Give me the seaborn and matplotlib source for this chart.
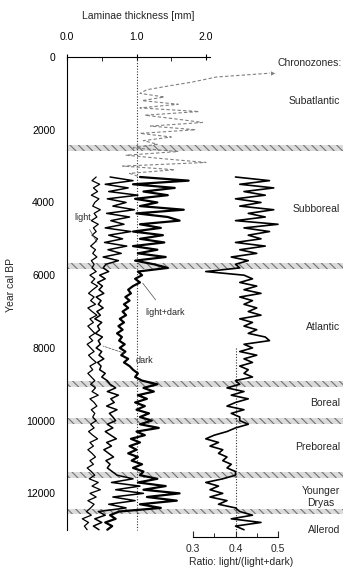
import numpy as np
import pandas as pd
import matplotlib
matplotlib.use("Agg")
import matplotlib.pyplot as plt
import seaborn as sns

# data (years cal BP, thickness in mm)
years = np.arange(3300, 13001, 100)

light = [0.42, 0.36, 0.47, 0.38, 0.44, 0.35, 0.46, 0.40, 0.37, 0.48, 0.39, 0.43, 0.35, 0.45, 0.38,
         0.42, 0.36, 0.44, 0.40, 0.34, 0.41, 0.37, 0.43, 0.35, 0.39,
         0.36, 0.42, 0.33, 0.40, 0.35, 0.44, 0.37, 0.31, 0.39, 0.34, 0.41, 0.30, 0.36, 0.43, 0.33, 0.38,
         0.30, 0.35, 0.40, 0.32, 0.37, 0.29, 0.34, 0.39, 0.31, 0.36, 0.42, 0.33, 0.37, 0.30, 0.35, 0.40,
         0.34, 0.41, 0.36, 0.45, 0.33, 0.39, 0.43, 0.35, 0.40, 0.37,
         0.42, 0.34, 0.39, 0.31, 0.37, 0.44, 0.33, 0.38, 0.30, 0.36, 0.41, 0.33, 0.38, 0.29, 0.35,
         0.40, 0.32, 0.45, 0.36, 0.48, 0.33, 0.42, 0.30, 0.39, 0.34,
         0.28, 0.35, 0.22, 0.31, 0.25, 0.29]

dark = [0.62, 0.95, 0.55, 0.88, 0.60, 1.02, 0.58, 0.85, 0.66, 0.97, 0.57, 0.90, 0.63, 0.82, 0.55,
        0.92, 0.60, 0.80, 0.54, 0.86, 0.59, 0.78, 0.52, 0.74, 0.56,
        0.52, 0.60, 0.47, 0.55, 0.44, 0.51, 0.46, 0.53, 0.42, 0.49, 0.45, 0.52, 0.43, 0.48, 0.40, 0.50,
        0.44, 0.47, 0.41, 0.51, 0.45, 0.48, 0.42, 0.50, 0.46, 0.53, 0.44, 0.49, 0.47, 0.55, 0.50, 0.58,
        0.62, 0.70, 0.58, 0.74, 0.63, 0.68, 0.57, 0.72, 0.61, 0.66,
        0.70, 0.58, 0.66, 0.55, 0.63, 0.71, 0.57, 0.64, 0.53, 0.60, 0.67, 0.56, 0.62, 0.58, 0.65,
        0.72, 0.95, 0.64, 1.05, 0.70, 1.10, 0.66, 0.98, 0.60, 0.85,
        0.45, 0.55, 0.40, 0.50, 0.38, 0.46]

total = [1.05, 1.75, 0.95, 1.55, 1.10, 1.45, 0.98, 1.30, 1.05, 1.68, 1.00, 1.45, 1.62, 1.05, 1.35,
         0.95, 1.38, 1.05, 1.40, 0.95, 1.30, 1.02, 1.42, 0.98, 1.25,
         1.45, 1.02, 1.08, 0.98, 1.05, 0.95, 0.88, 0.92, 0.84, 0.90, 0.82, 0.88, 0.80, 0.85, 0.76, 0.82,
         0.74, 0.80, 0.72, 0.79, 0.75, 0.83, 0.76, 0.84, 0.78, 0.88, 0.82, 0.90, 0.95, 1.02, 0.98, 1.08,
         1.30, 1.10, 1.25, 1.02, 1.15, 0.98, 1.12, 1.00, 1.18, 1.05,
         1.22, 1.05, 1.32, 1.00, 1.12, 0.92, 1.05, 0.90, 1.00, 0.88, 1.02, 0.93, 1.08, 0.95, 1.10,
         1.05, 1.30, 1.02, 1.42, 1.10, 1.62, 1.15, 1.58, 1.05, 1.35,
         0.75, 0.62, 0.70, 0.55, 0.65, 0.58]

ratio = [0.40, 0.48, 0.41, 0.49, 0.42, 0.47, 0.40, 0.46, 0.41, 0.49, 0.43, 0.47, 0.40, 0.50, 0.42,
         0.48, 0.43, 0.46, 0.40, 0.47, 0.41, 0.45, 0.39, 0.43, 0.40,
         0.41, 0.33, 0.42, 0.44, 0.41, 0.45, 0.42, 0.46, 0.41, 0.44, 0.42, 0.45, 0.43, 0.46, 0.41, 0.44,
         0.42, 0.45, 0.43, 0.47, 0.48, 0.42, 0.44, 0.41, 0.45, 0.42, 0.44, 0.41, 0.43, 0.42, 0.44, 0.40,
         0.41, 0.38, 0.42, 0.39, 0.43, 0.40, 0.38, 0.42, 0.39, 0.41,
         0.41, 0.43, 0.40, 0.38, 0.35, 0.33, 0.36, 0.34, 0.37, 0.36, 0.38, 0.37, 0.39, 0.38, 0.40,
         0.40, 0.37, 0.33, 0.36, 0.34, 0.37, 0.34, 0.38, 0.36, 0.40,
         0.41, 0.44, 0.39, 0.46, 0.40, 0.42]

# upper, less reliable part of the light+dark record (dashed)
dash_years = [440, 550, 690, 800, 900, 1000, 1100, 1200, 1300, 1400, 1500, 1600, 1700, 1800, 1900,
              2000, 2100, 2200, 2300, 2400, 2500, 2600, 2700, 2800, 2900, 3000, 3100, 3200, 3300]
dash_total = [2.96, 2.15, 1.80, 1.45, 1.15, 1.05, 1.40, 1.08, 1.60, 1.05, 1.90, 1.12, 1.55, 1.95, 1.20,
              1.85, 1.05, 1.50, 1.10, 1.30, 0.95, 1.60, 0.85, 1.40, 2.00, 0.80, 1.55, 0.90, 1.05]

boundaries = [2500, 5750, 9000, 10000, 11500, 12500]
zones = ["Subatlantic", "Subboreal", "Atlantic", "Boreal", "Preboreal", "Younger\nDryas", "Allerod"]
zone_years = [1210, 4180, 7430, 9520, 10730, 12100, 13010]

df = pd.DataFrame({"year": years, "light": light, "dark": dark, "total": total, "ratio": ratio})
df_top = pd.DataFrame({"year": dash_years, "total": dash_total})

sns.set_style("white")
plt.rcParams["font.family"] = ["Liberation Sans", "DejaVu Sans"]
plt.rcParams["hatch.linewidth"] = 0.8

W, H = 343, 570
fig = plt.figure(figsize=(W / 100, H / 100), dpi=100)
ax = fig.add_axes([67 / W, 33 / H, 276 / W, 480 / H])
ax2 = ax.twiny()

for b in boundaries:
    ax.axhspan(b - 80, b + 80, facecolor="0.86", edgecolor="0.45", hatch="\\\\\\\\", lw=0, zorder=0.5)

ax.vlines(1.0, 0, 13000, colors="0.2", linestyles=(0, (1, 1.5)), lw=0.8)
ax2.vlines(0.4, 8000, 13000, colors="0.2", linestyles=(0, (1, 1.5)), lw=0.8)

sns.lineplot(data=df, x="light", y="year", sort=False, orient="y", estimator=None,
             color="black", lw=0.9, ax=ax)
sns.lineplot(data=df, x="dark", y="year", sort=False, orient="y", estimator=None,
             color="black", lw=1.1, ax=ax)
sns.lineplot(data=df, x="total", y="year", sort=False, orient="y", estimator=None,
             color="black", lw=1.6, ax=ax)
sns.lineplot(data=df_top, x="total", y="year", sort=False, orient="y", estimator=None,
             color="0.5", lw=0.8, linestyle=(0, (3, 2)), marker=">", markevery=[0],
             markersize=4, ax=ax)
sns.lineplot(data=df, x="ratio", y="year", sort=False, orient="y", estimator=None,
             color="black", lw=1.2, ax=ax2)

ax.set_xlim(0, 276 / 69.5)
ax.set_ylim(13200, 0)
ax2.set_xlim(0.3 - 126 / 425, 0.3 + 150 / 425)

# thickness axis on top
for s in ["right", "bottom"]:
    ax.spines[s].set_visible(False)
ax.spines["top"].set_bounds(0, 2.06)
ax.spines["left"].set_bounds(0, 13000)
ax.xaxis.tick_top()
ax.set_xticks([0, 1, 2])
ax.set_xticklabels(["0.0", "1.0", "2.0"])
ax.set_xticks([0.5, 1.5], minor=True)
ax.set_yticks(range(0, 12001, 2000))
ax.set_yticks(range(1000, 13001, 2000), minor=True)
ax.tick_params(axis="both", which="major", direction="inout", length=5, width=0.8,
               labelsize=7.5, pad=6, colors="black")
ax.tick_params(axis="x", which="major", pad=8)
ax.tick_params(axis="both", which="minor", direction="in", length=3, width=0.7)
ax.set_xlabel("")
ax.set_ylabel("")

# ratio axis at the bottom
for s in ["top", "right", "left"]:
    ax2.spines[s].set_visible(False)
ax2.spines["bottom"].set_visible(True)
ax2.spines["bottom"].set_bounds(0.3, 0.5)
ax2.xaxis.set_ticks_position("bottom")
ax2.set_xticks([0.3, 0.4, 0.5])
ax2.set_xticklabels(["0.3", "0.4", "0.5"])
ax2.set_xticks([0.35, 0.45], minor=True)
ax2.tick_params(axis="x", which="major", direction="in", length=4, width=0.8, labelsize=7.5, pad=5)
ax2.tick_params(axis="x", which="minor", direction="in", length=3, width=0.7)
ax2.set_xlabel("")
ax2.set_ylabel("")
for s in ax.spines.values():
    s.set_color("black")
    s.set_linewidth(0.8)
ax2.spines["bottom"].set_color("black")
ax2.spines["bottom"].set_linewidth(0.8)

fig.text(138 / W, 1 - 16 / H, "Laminae thickness [mm]", ha="center", va="center", fontsize=7.5)
fig.text(11 / W, 1 - 285 / H, "Year cal BP", ha="center", va="center", rotation=90, fontsize=7.5)
fig.text(241 / W, 1 - 562 / H, "Ratio: light/(light+dark)", ha="center", va="center", fontsize=7.5)

tr = ax.get_yaxis_transform()
ax.text(0.995, 165, "Chronozones:", transform=tr, ha="right", va="center", fontsize=7.5)
for name, yr in zip(zones, zone_years):
    if "\n" in name:
        ax.text(0.92, yr, name, transform=tr, ha="center", va="center", fontsize=7.5,
                linespacing=1.2)
    else:
        ax.text(0.99, yr, name, transform=tr, ha="right", va="center", fontsize=7.5)

# curve labels
ax.annotate("light", xy=(0.43, 5090), xytext=(0.22, 4400), ha="center", va="center", fontsize=6.5,
            arrowprops=dict(arrowstyle="-", lw=0.5, color="0.3", shrinkA=4, shrinkB=0))
ax.annotate("light+dark", xy=(1.09, 6220), xytext=(1.41, 7015), ha="center", va="center",
            fontsize=6.5, arrowprops=dict(arrowstyle="-", lw=0.5, color="0.3", shrinkA=4, shrinkB=0))
ax.annotate("dark", xy=(0.52, 7950), xytext=(1.12, 8335), ha="center", va="center", fontsize=6.5,
            arrowprops=dict(arrowstyle="-", lw=0.5, color="0.3", ls="--", shrinkA=6, shrinkB=0))

fig.savefig("out.png", dpi=100, facecolor="white")
